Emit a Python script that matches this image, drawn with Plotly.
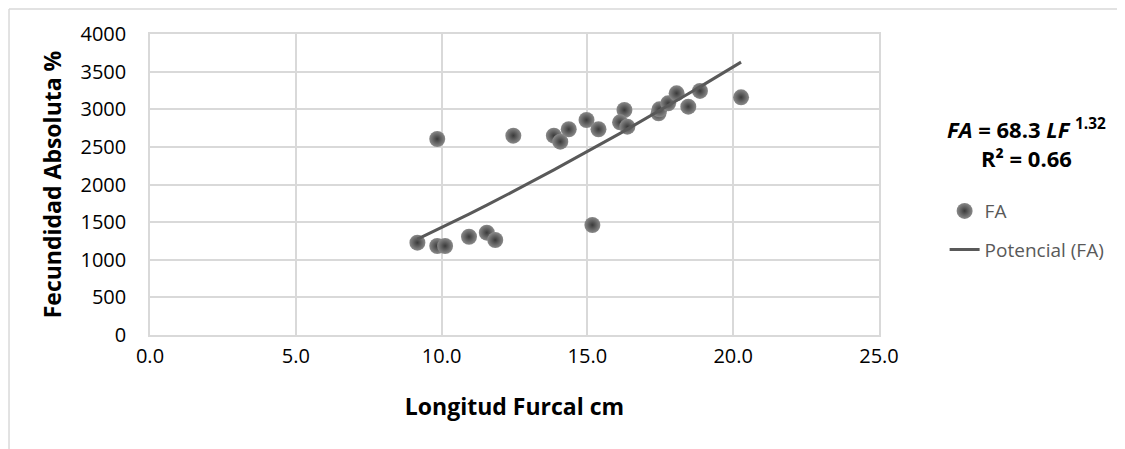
import numpy as np
import plotly.graph_objects as go

# longitud furcal (cm) y fecundidad absoluta
lf = [9.17, 9.85, 9.85, 10.12, 10.94, 11.55, 11.84, 12.46, 13.85, 14.07, 14.36,
      14.97, 15.38, 15.17, 16.27, 16.12, 16.37, 17.44, 17.47, 17.77, 18.06,
      18.46, 18.86, 20.27]
fa = [1227, 2605, 1183, 1183, 1306, 1360, 1262, 2649, 2649, 2569, 2734,
      2857, 2734, 1462, 2990, 2826, 2768, 2946, 2999, 3079, 3212,
      3034, 3243, 3159]

# tendencia potencial (Excel): FA = a * LF^b
coef_a = 68.3
coef_b = 1.32
r2 = 0.66

x_ticks = [0, 5, 10, 15, 20, 25]
y_ticks = [0, 500, 1000, 1500, 2000, 2500, 3000, 3500, 4000]

lf_sorted = np.sort(np.array(lf))
trend = coef_a * lf_sorted ** coef_b

fig = go.Figure()

fig.add_trace(go.Scatter(
    x=lf, y=fa, mode='markers', name='FA', legendgroup='a',
    marker=dict(size=16, color='#8a8a8a',
                gradient=dict(type='radial', color='#3a3a3a'),
                line=dict(width=0)),
))

fig.add_trace(go.Scatter(
    x=lf_sorted, y=trend, mode='lines', name='Potencial (FA)', legendgroup='b',
    line=dict(color='#595959', width=3),
))

grid = '#d9d9d9'
fig.update_xaxes(
    range=[0, 25], tickvals=x_ticks, tickformat='.1f',
    showgrid=True, gridcolor=grid, gridwidth=1.5,
    showline=True, linecolor=grid, linewidth=1.5, mirror=True,
    zeroline=False, ticks='', ticklabelstandoff=2,
    tickfont=dict(size=20, color='#000000'),
    title=dict(text='<b>Longitud Furcal cm</b>', font=dict(size=23, color='#000000'), standoff=31),
)
fig.update_yaxes(
    range=[0, 4000], tickvals=y_ticks,
    showgrid=True, gridcolor=grid, gridwidth=1.5,
    showline=True, linecolor=grid, linewidth=1.5, mirror=True,
    zeroline=False, ticks='', ticklabelstandoff=18,
    tickfont=dict(size=20, color='#000000'),
    title=dict(text='<b>Fecundidad Absoluta %</b>', font=dict(size=23, color='#000000'), standoff=12),
)

fig.update_layout(
    width=1125, height=449,
    margin=dict(l=142, r=254, t=26, b=122),
    paper_bgcolor='white', plot_bgcolor='white',
    font=dict(family='Open Sans, Noto Sans, sans-serif'),
    legend=dict(x=1.09, y=0.475, xanchor='left', yanchor='top',
                font=dict(size=19, color='#595959'),
                tracegroupgap=11, itemwidth=30, bgcolor='rgba(0,0,0,0)'),
    showlegend=True,
    annotations=[
        dict(xref='paper', yref='paper', x=1.203, y=0.638, xanchor='center', yanchor='middle',
             text='<b><i>FA</i> = %.1f <i>LF</i> <sup>%.2f</sup><br>R² = %.2f</b>' % (coef_a, coef_b, r2),
             showarrow=False, align='center', font=dict(size=22, color='#000000')),
    ],
    shapes=[
        dict(type='line', xref='paper', yref='paper', x0=-0.1934, x1=1.5, y0=1.083, y1=1.083,
             line=dict(color='#d9d9d9', width=1.5)),
        dict(type='line', xref='paper', yref='paper', x0=-0.1934, x1=-0.1934, y0=1.083, y1=-0.5,
             line=dict(color='#d9d9d9', width=1.5)),
    ],
)

fig.write_html('out.html')
